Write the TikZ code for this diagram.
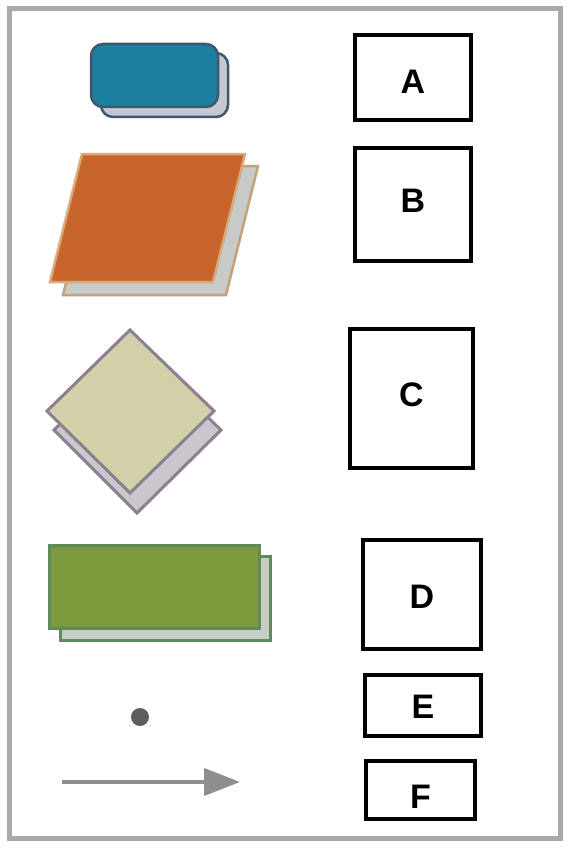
\documentclass[tikz,border=0pt]{standalone}
\usepackage{fontspec}
\setmainfont{Liberation Sans}
\usetikzlibrary{arrows.meta}
\definecolor{framegray}{HTML}{A9A9A9}
\definecolor{tealF}{HTML}{1B7FA1}
\definecolor{tealB}{HTML}{3D5A6C}
\definecolor{tealS}{HTML}{C5C8D2}
\definecolor{orangeF}{HTML}{C8652C}
\definecolor{orangeB}{HTML}{D8A878}
\definecolor{orangeS}{HTML}{C8CACA}
\definecolor{khakiF}{HTML}{D3CFA8}
\definecolor{khakiB}{HTML}{8C8090}
\definecolor{khakiS}{HTML}{C9C6CC}
\definecolor{greenF}{HTML}{7B9B3A}
\definecolor{greenB}{HTML}{5E8A5E}
\definecolor{greenS}{HTML}{C9CCC6}
\definecolor{dotgray}{HTML}{5E5E5E}
\definecolor{arrowgray}{HTML}{8E8E8E}
\newcommand{\shiftletter}[2]{\raisebox{#1}[\height][\depth]{#2}}
\tikzset{
  labelbox/.style={draw=black, line width=4.5pt, inner sep=0pt, fill=white,
    font=\bfseries\fontsize{34}{38}\selectfont},
}
\begin{document}
\begin{tikzpicture}[x=1pt,y=-1pt]
\useasboundingbox (0,0) rectangle (569,848);
\fill[white] (0,0) rectangle (569,848);
\draw[framegray, line width=5pt] (9,9) rectangle (560,838);

% A: rounded rectangle with shadow
\draw[tealB, fill=tealS, line width=2.5pt, rounded corners=12pt] (101,53) rectangle (228,117);
\draw[tealB, fill=tealF, line width=2.5pt, rounded corners=12pt] (91,44) rectangle (218,107);

% B: parallelogram with shadow
\draw[orangeB!80!gray, fill=orangeS, line width=2.5pt, line join=miter]
  (95,166) -- (258,166) -- (226,295) -- (63,295) -- cycle;
\draw[orangeB, fill=orangeF, line width=2.5pt, line join=miter]
  (82,154) -- (245,154) -- (213,282) -- (50,282) -- cycle;

% C: diamond with shadow
\draw[khakiB, fill=khakiS, line width=3pt]
  (137,349) -- (221,430) -- (137,513) -- (54,430) -- cycle;
\draw[khakiB, fill=khakiF, line width=3pt]
  (130,330) -- (214,411) -- (130,493) -- (47,411) -- cycle;

% D: rectangle with shadow
\draw[greenB, fill=greenS, line width=3pt] (60,556) rectangle (270,640);
\draw[greenB, fill=greenF, line width=3pt] (49,545) rectangle (259,628);

% E: dot
\fill[dotgray] (140,717) circle (9);

% F: arrow
\coordinate (arrS) at (62,782);
\coordinate (arrE) at (240,782);
\draw[arrowgray, line width=4pt, -{Triangle[length=36pt,width=27pt]}] (arrS) -- (arrE);

% label boxes
\node[labelbox, minimum width=116pt, minimum height=85pt] (boxA) at (413,77.5) {\shiftletter{-4pt}{A}};
\node[labelbox, minimum width=116pt, minimum height=113pt] (boxB) at (413,204.5) {\shiftletter{4pt}{B}};
\node[labelbox, minimum width=123pt, minimum height=139pt] (boxC) at (411.5,398.5) {\shiftletter{4pt}{C}};
\node[labelbox, minimum width=118pt, minimum height=109pt] (boxD) at (422,594.5) {\shiftletter{-2pt}{D}};
\node[labelbox, minimum width=116pt, minimum height=61pt] (boxE) at (423,705.5) {\shiftletter{-1pt}{E}};
\node[labelbox, minimum width=109pt, minimum height=58pt] (boxF) at (420.5,790) {\shiftletter{-7pt}{F}};
\end{tikzpicture}
\end{document}
